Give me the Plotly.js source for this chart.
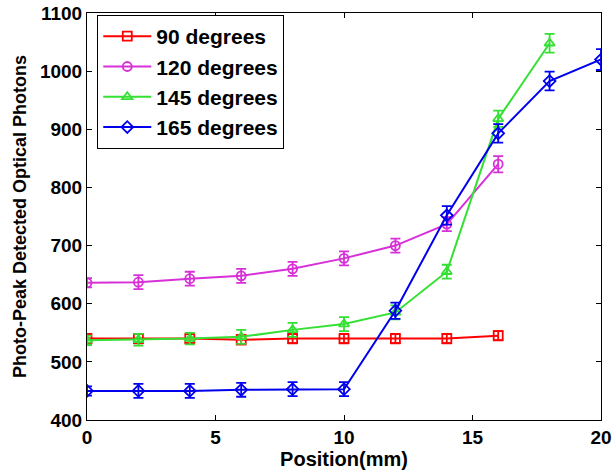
<!DOCTYPE html>
<html><head><meta charset="utf-8">
<script src="https://cdn.plot.ly/plotly-3.0.1.min.js"></script>
<style>body{margin:0;background:#fff}#chart{width:615px;height:476px}</style>
</head><body><div id="chart"></div>
<script>
const x90 = [0,2,4,6,8,10,12,14,16];
const y90 = [540,540,540,538,540,540,540,540,545];
const e90 = [8,8,8,8,8,8,8,8,8];
const x120 = [0,2,4,6,8,10,12,14,16];
const y120 = [636,637,643,648,660,678,700,737,840];
const e120 = [8,12,12,12,12,12,12,12,14];
const x145 = [0,2,4,6,8,10,12,14,16,18];
const y145 = [537,538,540,543,555,565,585,655,918,1048];
const e145 = [8,10,10,12,12,12,12,12,14,16];
const x165 = [0,2,4,6,8,10,12,14,16,18,20];
const y165 = [450,450,450,452,453,453,588,752,893,983,1020];
const e165 = [8,12,12,12,12,12,14,16,16,16,18];
const names = ['90 degrees','120 degrees','145 degrees','165 degrees'];
const colors = ['#ff0000','#d830d8','#33e033','#0000ee'];
const symbols = ['square-open','circle-open','triangle-up-open','diamond-open'];
const xs=[x90,x120,x145,x165], ys=[y90,y120,y145,y165], es=[e90,e120,e145,e165];
const traces = xs.map((xv,i)=>({
  x: xv, y: ys[i], name: names[i], type:'scatter', mode:'lines+markers',
  line:{color:colors[i], width:2},
  marker:{symbol:symbols[i], size:9, color:colors[i], line:{width:1.8,color:colors[i]}},
  error_y:{type:'data', array:es[i], visible:true, color:colors[i], thickness:1.8, width:5}
}));
const fam = 'Arial, Liberation Sans, sans-serif';
const tf = {family:fam, size:19, color:'#000', weight:'bold'};
const layout = {
  width:615, height:476,
  margin:{l:87, r:14, t:13, b:56},
  paper_bgcolor:'#fff', plot_bgcolor:'#fff',
  showlegend:true,
  legend:{x:0.02, y:0.995, xanchor:'left', yanchor:'top', bgcolor:'#fff', bordercolor:'#000', borderwidth:1,
    font:{family:fam, size:21, color:'#000', weight:'bold'}, tracegroupgap:0, itemwidth:48},
  xaxis:{range:[0,20], tickvals:[0,5,10,15,20], ticks:'inside', ticklen:5, tickcolor:'#000',
    showline:true, linecolor:'#000', linewidth:1, mirror:'ticks', showgrid:false, zeroline:false,
    tickfont:tf, title:{text:'Position(mm)', font:{family:fam, size:20, color:'#000', weight:'bold'}, standoff:3}},
  yaxis:{range:[400,1100], tickvals:[400,500,600,700,800,900,1000,1100], ticks:'inside', ticklen:5, tickcolor:'#000',
    showline:true, linecolor:'#000', linewidth:1, mirror:'ticks', showgrid:false, zeroline:false,
    tickfont:tf, title:{text:'Photo-Peak Detected Optical Photons', font:{family:fam, size:18, color:'#000', weight:'bold'}, standoff:8}}
};
Plotly.newPlot('chart', traces, layout, {displayModeBar:false, staticPlot:true});
</script></body></html>
